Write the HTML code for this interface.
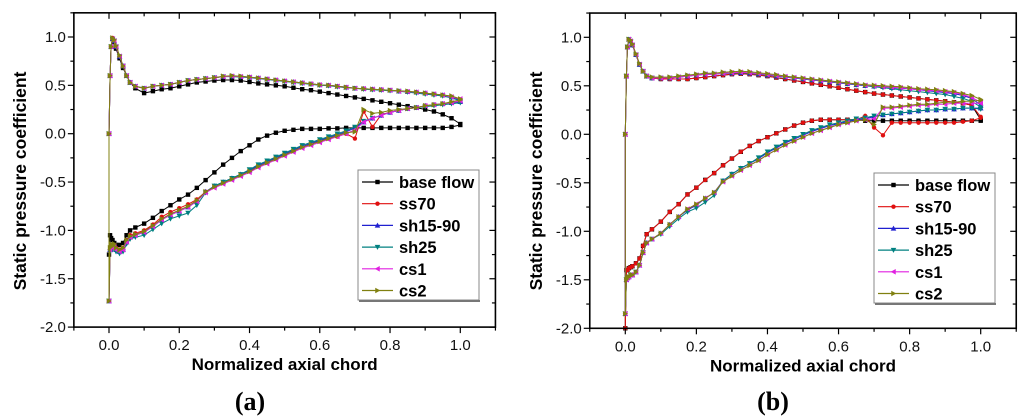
<!DOCTYPE html>
<html><head><meta charset="utf-8"><style>
html,body{margin:0;padding:0;background:#fff;}
svg{display:block;font-family:"Liberation Sans",sans-serif;}
</style></head><body>
<svg id="fig" width="1024" height="419" viewBox="0 0 1024 419"></svg>
<script>
const xs=[0,0.003,0.006,0.01,0.015,0.02,0.03,0.04,0.05,0.06,0.075,0.1,0.125,0.15,0.175,0.2,0.225,0.25,0.275,0.3,0.325,0.35,0.375,0.4,0.425,0.45,0.475,0.5,0.525,0.55,0.575,0.6,0.625,0.65,0.675,0.7,0.725,0.75,0.775,0.8,0.825,0.85,0.875,0.9,0.925,0.95,0.975,1.0];
const seriesNames=["base flow","ss70","sh15-90","sh25","cs1","cs2"];
const xTicks=["0.0","0.2","0.4","0.6","0.8","1.0"];
const yTicks=["-2.0","-1.5","-1.0","-0.5","0.0","0.5","1.0"];
// panel (a)
const aBaseUp=[0.0,0.6,0.9,0.98,0.95,0.88,0.78,0.68,0.6,0.53,0.47,0.42,0.44,0.46,0.47,0.49,0.51,0.53,0.54,0.55,0.555,0.555,0.55,0.535,0.52,0.51,0.5,0.49,0.475,0.46,0.45,0.435,0.42,0.405,0.39,0.375,0.36,0.345,0.33,0.315,0.3,0.285,0.27,0.25,0.23,0.2,0.16,0.1];
const aBaseLo=[-1.25,-1.05,-1.08,-1.1,-1.13,-1.15,-1.15,-1.13,-1.05,-1.0,-0.97,-0.93,-0.87,-0.8,-0.74,-0.68,-0.63,-0.56,-0.48,-0.4,-0.32,-0.25,-0.18,-0.12,-0.06,-0.02,0.01,0.03,0.04,0.05,0.05,0.05,0.055,0.055,0.06,0.06,0.06,0.06,0.06,0.06,0.06,0.06,0.06,0.06,0.06,0.06,0.07,0.09];
const aSs70Up=[0.0,0.6,0.9,0.99,0.96,0.9,0.8,0.7,0.6,0.53,0.49,0.47,0.49,0.5,0.51,0.53,0.55,0.56,0.57,0.58,0.59,0.595,0.59,0.585,0.575,0.565,0.555,0.545,0.535,0.525,0.515,0.505,0.5,0.49,0.48,0.47,0.465,0.46,0.455,0.45,0.44,0.435,0.43,0.42,0.41,0.4,0.38,0.35];
const aSs70Lo=[-1.73,-1.2,-1.15,-1.17,-1.15,-1.18,-1.2,-1.18,-1.1,-1.05,-1.03,-1.0,-0.94,-0.86,-0.81,-0.77,-0.73,-0.68,-0.6,-0.55,-0.51,-0.47,-0.43,-0.39,-0.34,-0.3,-0.26,-0.22,-0.18,-0.14,-0.11,-0.08,-0.05,-0.03,0.0,-0.05,0.23,0.07,0.2,0.22,0.24,0.26,0.27,0.29,0.3,0.31,0.32,0.33];
const aSh1590Up=[0.0,0.6,0.9,0.98,0.96,0.9,0.8,0.7,0.6,0.53,0.49,0.47,0.49,0.5,0.51,0.53,0.55,0.56,0.57,0.58,0.59,0.595,0.59,0.585,0.575,0.565,0.555,0.545,0.535,0.525,0.515,0.505,0.5,0.49,0.48,0.47,0.465,0.46,0.455,0.45,0.44,0.435,0.43,0.42,0.41,0.4,0.38,0.34];
const aSh1590Lo=[-1.73,-1.2,-1.16,-1.18,-1.16,-1.2,-1.22,-1.2,-1.12,-1.07,-1.05,-1.02,-0.96,-0.89,-0.84,-0.8,-0.76,-0.7,-0.6,-0.54,-0.5,-0.46,-0.42,-0.38,-0.33,-0.29,-0.25,-0.21,-0.17,-0.13,-0.1,-0.07,-0.04,-0.01,0.02,0.06,0.12,0.16,0.19,0.22,0.24,0.26,0.27,0.29,0.3,0.31,0.32,0.33];
const aSh25Up=[0.0,0.6,0.9,0.98,0.96,0.9,0.8,0.7,0.6,0.53,0.49,0.47,0.49,0.5,0.51,0.53,0.55,0.56,0.57,0.58,0.59,0.59,0.585,0.58,0.57,0.56,0.55,0.54,0.53,0.52,0.51,0.5,0.495,0.485,0.475,0.47,0.46,0.455,0.45,0.445,0.44,0.43,0.42,0.41,0.4,0.39,0.37,0.34];
const aSh25Lo=[-1.73,-1.22,-1.18,-1.2,-1.18,-1.22,-1.24,-1.22,-1.14,-1.09,-1.07,-1.05,-0.99,-0.93,-0.88,-0.85,-0.82,-0.74,-0.61,-0.54,-0.5,-0.46,-0.42,-0.37,-0.32,-0.28,-0.24,-0.2,-0.16,-0.12,-0.09,-0.06,-0.03,0.0,0.03,0.07,0.13,0.16,0.19,0.22,0.24,0.26,0.27,0.28,0.29,0.3,0.31,0.32];
const aCs1Up=[0.0,0.6,0.9,0.98,0.96,0.9,0.8,0.7,0.6,0.53,0.49,0.47,0.49,0.5,0.51,0.53,0.55,0.56,0.57,0.58,0.59,0.595,0.59,0.585,0.575,0.565,0.555,0.545,0.535,0.525,0.515,0.505,0.5,0.49,0.48,0.47,0.465,0.46,0.455,0.45,0.44,0.435,0.43,0.42,0.41,0.4,0.38,0.36];
const aCs1Lo=[-1.73,-1.2,-1.16,-1.18,-1.16,-1.2,-1.22,-1.2,-1.12,-1.07,-1.05,-1.02,-0.96,-0.89,-0.84,-0.8,-0.76,-0.7,-0.61,-0.56,-0.52,-0.48,-0.44,-0.4,-0.35,-0.31,-0.27,-0.23,-0.19,-0.15,-0.12,-0.09,-0.06,-0.03,0.0,0.04,0.12,0.16,0.19,0.22,0.24,0.26,0.27,0.29,0.3,0.31,0.32,0.34];
const aCs2Up=[0.0,0.6,0.9,0.99,0.97,0.91,0.81,0.7,0.6,0.53,0.49,0.47,0.49,0.5,0.51,0.53,0.55,0.56,0.57,0.58,0.595,0.6,0.595,0.585,0.575,0.565,0.555,0.545,0.535,0.525,0.515,0.505,0.5,0.49,0.48,0.47,0.465,0.46,0.455,0.45,0.445,0.44,0.43,0.42,0.41,0.4,0.39,0.36];
const aCs2Lo=[-1.73,-1.18,-1.14,-1.16,-1.14,-1.18,-1.2,-1.18,-1.1,-1.06,-1.04,-1.01,-0.95,-0.88,-0.83,-0.79,-0.75,-0.69,-0.6,-0.55,-0.51,-0.47,-0.43,-0.39,-0.34,-0.3,-0.26,-0.22,-0.18,-0.14,-0.11,-0.08,-0.05,-0.02,0.01,0.02,0.25,0.21,0.22,0.24,0.25,0.26,0.27,0.29,0.3,0.31,0.33,0.35];
// panel (b)
const bBaseUp=[0.0,0.6,0.9,0.98,0.96,0.92,0.82,0.72,0.65,0.6,0.58,0.57,0.57,0.57,0.57,0.58,0.59,0.6,0.61,0.62,0.625,0.62,0.61,0.6,0.585,0.57,0.555,0.54,0.525,0.51,0.495,0.48,0.465,0.45,0.435,0.42,0.41,0.4,0.39,0.38,0.37,0.36,0.35,0.34,0.33,0.32,0.3,0.15];
const bBaseLo=[-2.0,-1.4,-1.4,-1.38,-1.37,-1.36,-1.33,-1.28,-1.15,-1.03,-0.98,-0.9,-0.8,-0.72,-0.62,-0.55,-0.47,-0.4,-0.32,-0.25,-0.18,-0.12,-0.07,-0.03,0.01,0.05,0.09,0.12,0.14,0.15,0.15,0.15,0.15,0.15,0.14,0.14,0.14,0.14,0.14,0.14,0.14,0.14,0.14,0.14,0.14,0.14,0.14,0.14];
const bSs70Up=[0.0,0.6,0.9,0.98,0.96,0.92,0.82,0.72,0.65,0.6,0.58,0.57,0.57,0.57,0.57,0.58,0.59,0.6,0.61,0.62,0.625,0.62,0.61,0.6,0.585,0.57,0.555,0.54,0.525,0.51,0.495,0.48,0.465,0.45,0.435,0.42,0.41,0.4,0.39,0.38,0.37,0.36,0.35,0.34,0.33,0.32,0.3,0.18];
const bSs70Lo=[-2.0,-1.4,-1.4,-1.38,-1.37,-1.36,-1.33,-1.28,-1.15,-1.03,-0.98,-0.9,-0.8,-0.72,-0.62,-0.55,-0.47,-0.4,-0.32,-0.25,-0.18,-0.12,-0.07,-0.03,0.01,0.05,0.09,0.12,0.14,0.15,0.15,0.15,0.15,0.15,0.19,0.07,-0.01,0.12,0.12,0.12,0.12,0.12,0.12,0.12,0.12,0.13,0.14,0.17];
const bSh1590Up=[0.0,0.6,0.9,0.98,0.96,0.92,0.82,0.72,0.65,0.6,0.58,0.58,0.58,0.59,0.6,0.61,0.62,0.62,0.63,0.63,0.635,0.63,0.62,0.61,0.6,0.59,0.58,0.57,0.56,0.55,0.54,0.53,0.52,0.51,0.5,0.495,0.49,0.48,0.475,0.47,0.46,0.45,0.44,0.43,0.42,0.4,0.37,0.3];
const bSh1590Lo=[-1.85,-1.5,-1.48,-1.47,-1.45,-1.45,-1.42,-1.35,-1.22,-1.12,-1.08,-1.02,-0.93,-0.85,-0.78,-0.73,-0.66,-0.6,-0.48,-0.41,-0.35,-0.3,-0.25,-0.19,-0.14,-0.09,-0.05,-0.01,0.03,0.06,0.09,0.11,0.13,0.15,0.16,0.18,0.2,0.21,0.22,0.23,0.24,0.25,0.25,0.26,0.26,0.27,0.27,0.27];
const bSh25Up=[0.0,0.6,0.9,0.98,0.96,0.92,0.82,0.72,0.65,0.6,0.58,0.58,0.58,0.59,0.6,0.61,0.62,0.62,0.63,0.63,0.635,0.63,0.62,0.61,0.6,0.59,0.58,0.57,0.56,0.55,0.54,0.53,0.52,0.51,0.5,0.49,0.48,0.47,0.46,0.45,0.44,0.43,0.42,0.41,0.39,0.37,0.34,0.28];
const bSh25Lo=[-1.85,-1.5,-1.48,-1.47,-1.45,-1.45,-1.42,-1.35,-1.22,-1.12,-1.08,-1.03,-0.95,-0.87,-0.8,-0.76,-0.7,-0.63,-0.48,-0.41,-0.35,-0.3,-0.24,-0.18,-0.13,-0.08,-0.04,0.0,0.04,0.07,0.1,0.12,0.14,0.16,0.17,0.19,0.2,0.21,0.22,0.23,0.24,0.25,0.25,0.26,0.26,0.27,0.27,0.26];
const bCs1Up=[0.0,0.6,0.9,0.98,0.96,0.92,0.82,0.72,0.65,0.6,0.58,0.58,0.58,0.59,0.6,0.61,0.62,0.62,0.63,0.635,0.64,0.635,0.625,0.615,0.605,0.595,0.585,0.575,0.565,0.555,0.545,0.535,0.525,0.515,0.505,0.5,0.49,0.485,0.48,0.47,0.46,0.455,0.45,0.44,0.43,0.41,0.38,0.33];
const bCs1Lo=[-1.85,-1.5,-1.48,-1.47,-1.45,-1.45,-1.42,-1.35,-1.22,-1.12,-1.08,-1.02,-0.93,-0.85,-0.77,-0.72,-0.66,-0.6,-0.49,-0.43,-0.37,-0.32,-0.27,-0.21,-0.16,-0.11,-0.07,-0.03,0.01,0.04,0.07,0.1,0.12,0.14,0.15,0.16,0.27,0.27,0.28,0.29,0.3,0.3,0.31,0.31,0.32,0.32,0.32,0.32];
const bCs2Up=[0.0,0.6,0.9,0.98,0.97,0.93,0.83,0.73,0.65,0.6,0.59,0.59,0.59,0.6,0.61,0.62,0.63,0.63,0.64,0.645,0.65,0.645,0.635,0.625,0.615,0.6,0.59,0.58,0.57,0.56,0.55,0.54,0.53,0.52,0.51,0.505,0.5,0.495,0.49,0.48,0.47,0.465,0.46,0.45,0.44,0.42,0.4,0.36];
const bCs2Lo=[-1.85,-1.5,-1.48,-1.47,-1.45,-1.45,-1.42,-1.35,-1.22,-1.12,-1.08,-1.02,-0.93,-0.85,-0.77,-0.72,-0.66,-0.6,-0.49,-0.43,-0.37,-0.32,-0.27,-0.21,-0.16,-0.11,-0.07,-0.03,0.01,0.04,0.07,0.1,0.12,0.14,0.15,0.1,0.28,0.28,0.29,0.3,0.31,0.31,0.32,0.33,0.33,0.34,0.34,0.35];

const colors=["#000000","#e01010","#2020d0","#008080","#e020e0","#808010"];
const shapes=["square","circle","up","down","left","right"];
const NS="http://www.w3.org/2000/svg";
const svg=document.getElementById('fig');
function mk(tag,attrs,parent){const e=document.createElementNS(NS,tag);for(const k in attrs)e.setAttribute(k,attrs[k]);(parent||svg).appendChild(e);return e;}

function marker(g,shape,x,y,c){
  const s=2.2;let e;
  if(shape==="square")e=mk('rect',{x:x-s,y:y-s,width:2*s,height:2*s,fill:c},g);
  else if(shape==="circle")e=mk('circle',{cx:x,cy:y,r:s,fill:c},g);
  else{let p;const t=2.8;
    if(shape==="up")p=[[x,y-t],[x-t,y+t*0.8],[x+t,y+t*0.8]];
    else if(shape==="down")p=[[x,y+t],[x-t,y-t*0.8],[x+t,y-t*0.8]];
    else if(shape==="left")p=[[x-t,y],[x+t*0.8,y-t],[x+t*0.8,y+t]];
    else p=[[x+t,y],[x-t*0.8,y-t],[x-t*0.8,y+t]];
    e=mk('polygon',{points:p.map(q=>q.join(',')).join(' '),fill:c},g);}
  return e;
}

function panel(id,P,data,label,labelX){
  const X=v=>P.x0+v*P.xs;
  const Y=v=>P.yTop1+(1-v)*P.ys;
  const g=mk('g',{});
  
  
  const L=X(-0.1),R=X(1.1),T=Y(1.25),B=Y(-2.0);
  const sg=mk('g',{},g);
  
  
  data.forEach((d,i)=>{
    const pts=[];
    for(let k=xs.length-1;k>=0;k--)pts.push([X(xs[k]),Y(d[1][k])]);
    for(let k=0;k<xs.length;k++)pts.push([X(xs[k]),Y(d[0][k])]);
    const s=mk('g',{},sg);
    
    
    const pl=mk('polyline',{points:pts.map(p=>p[0].toFixed(1)+','+p[1].toFixed(1)).join(' '),fill:'none',stroke:colors[i],'stroke-width':1},s);
    
    
    pts.forEach(p=>{const m=marker(s,shapes[i],p[0],p[1],colors[i]);
      
      });
  });
  const fr=mk('rect',{x:L,y:T,width:R-L,height:B-T,fill:'none',stroke:'#000','stroke-width':1.6},g);
  
  
  for(let k=-1;k<=11;k++){const v=k/10;const px=X(v);const major=k%2===0;
    mk('line',{x1:px,x2:px,y1:B,y2:B+(major?6:3.5),stroke:'#000','stroke-width':1.2},g);
    mk('line',{x1:px,x2:px,y1:T,y2:T+(major?6:3.5),stroke:'#000','stroke-width':1.2},g);}
  xTicks.forEach((t,i)=>{const tx=mk('text',{x:X(i*0.2),y:B+23,'font-size':15,'text-anchor':'middle',fill:'#111'},g);tx.textContent=t;
    
    });
  for(let k=0;k<=13;k++){const v=-2+k*0.25;const py=Y(v);const major=k%2===0;
    mk('line',{x1:L,x2:L-(major?6:3.5),y1:py,y2:py,stroke:'#000','stroke-width':1.2},g);
    mk('line',{x1:R,x2:R-(major?6:3.5),y1:py,y2:py,stroke:'#000','stroke-width':1.2},g);}
  yTicks.forEach((t,i)=>{const tx=mk('text',{x:L-8,y:Y(-2+i*0.5)+5,'font-size':15,'text-anchor':'end',fill:'#111'},g);tx.textContent=t;
    
    });
  const xt=mk('text',{x:(X(0.5)),y:B+43,'font-size':17,'font-weight':'bold','text-anchor':'middle'},g);xt.textContent='Normalized axial chord';
  
  
  const yt=mk('text',{x:0,y:0,'font-size':17.5,'font-weight':'bold','text-anchor':'middle',transform:`translate(${P.ytx},${181}) rotate(-90)`},g);yt.textContent='Static pressure coefficient';
  
  
  const lg=mk('g',{},g);
  
  
  mk('rect',{x:P.lx,y:P.ly,width:121,height:130,fill:'#fff',stroke:'#888','stroke-width':1},lg);
  mk('line',{x1:P.lx+1,x2:P.lx+122,y1:P.ly+131,y2:P.ly+131,stroke:'#777','stroke-width':2},lg);
  seriesNames.forEach((n,i)=>{const cy=P.ly+12+i*21.7;
    const e=mk('g',{},lg);
    
    
    mk('line',{x1:P.lx+4,x2:P.lx+35,y1:cy,y2:cy,stroke:colors[i],'stroke-width':1.2},e);
    marker(e,shapes[i],P.lx+19.5,cy,colors[i]);
    const t=mk('text',{x:P.lx+41,y:cy+6,'font-size':16.5,'font-weight':'bold'},e);t.textContent=n;});
  const pl=mk('text',{x:labelX,y:410,'font-size':26,'font-weight':'bold','text-anchor':'middle','font-family':'"Liberation Serif",serif'},g);
  pl.textContent='('+label+')';
  
  
}
panel('panel-a',{x0:109,xs:351.3,yTop1:37,ys:96.7,ytx:26,lx:358,ly:170},
  [[aBaseUp,aBaseLo],[aSs70Up,aSs70Lo],[aSh1590Up,aSh1590Lo],[aSh25Up,aSh25Lo],[aCs1Up,aCs1Lo],[aCs2Up,aCs2Lo]],'a',250);
panel('panel-b',{x0:625.3,xs:355.4,yTop1:37.3,ys:97,ytx:542,lx:874,ly:173},
  [[bBaseUp,bBaseLo],[bSs70Up,bSs70Lo],[bSh1590Up,bSh1590Lo],[bSh25Up,bSh25Lo],[bCs1Up,bCs1Lo],[bCs2Up,bCs2Lo]],'b',773);
</script>
</body></html>
